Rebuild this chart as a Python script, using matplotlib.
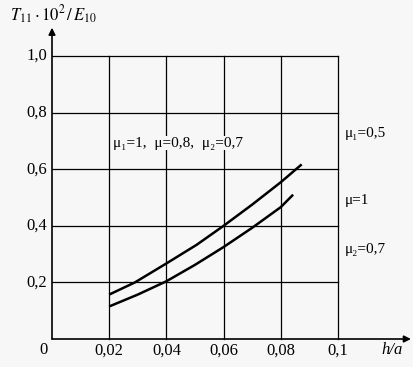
import matplotlib.pyplot as plt
import numpy as np

# values
h_upper = [0.02, 0.029, 0.04, 0.0506, 0.06, 0.07, 0.08, 0.0873]
t_upper = [0.157, 0.20, 0.267, 0.333, 0.40, 0.475, 0.554, 0.617]
h_lower = [0.02, 0.03, 0.04, 0.05, 0.06, 0.07, 0.08, 0.0843]
t_lower = [0.115, 0.157, 0.204, 0.262, 0.325, 0.393, 0.466, 0.51]

x_ticks = [0.02, 0.04, 0.06, 0.08, 0.1]
x_tick_labels = ["0,02", "0,04", "0,06", "0,08", "0,1"]
y_ticks = [0.2, 0.4, 0.6, 0.8, 1.0]
y_tick_labels = ["0,2", "0,4", "0,6", "0,8", "1,0"]

plt.rcParams["font.family"] = ["Liberation Serif", "DejaVu Serif"]
plt.rcParams["mathtext.fontset"] = "stix"

W, H = 413, 367
bg = "#f7f7f7"
fig = plt.figure(figsize=(W / 100, H / 100), dpi=100, facecolor=bg)
x0, x1 = 52, 338
y0, y1 = 339, 56
ax = fig.add_axes([x0 / W, 1 - y0 / H, (x1 - x0) / W, (y0 - y1) / H])
ax.set_xlim(0, 0.1)
ax.set_ylim(0, 1.0)
ax.set_facecolor(bg)
for s in ax.spines.values():
    s.set_visible(False)
ax.set_xticks([])
ax.set_yticks([])

# grid
for xv in x_ticks:
    ax.plot([xv, xv], [0, 1.0], color="black", lw=0.9, zorder=1, clip_on=False)
for yv in y_ticks:
    ax.plot([0, 0.1], [yv, yv], color="black", lw=0.9, zorder=1, clip_on=False)

# axes with arrows
ax.annotate("", xy=(0, 1.1), xytext=(0, 0), annotation_clip=False,
            arrowprops=dict(arrowstyle="-|>", color="black", lw=1.2,
                            mutation_scale=10, shrinkA=0, shrinkB=0))
ax.annotate("", xy=(0.1255, 0), xytext=(0, 0), annotation_clip=False,
            arrowprops=dict(arrowstyle="-|>", color="black", lw=1.2,
                            mutation_scale=10, shrinkA=0, shrinkB=0))

# curves
ax.plot(h_upper, t_upper, color="black", lw=1.8, zorder=3, clip_on=False,
        solid_joinstyle="round", solid_capstyle="butt")
ax.plot(h_lower, t_lower, color="black", lw=1.8, zorder=3, clip_on=False,
        solid_joinstyle="round", solid_capstyle="butt")

# tick labels
fs = 12
for xv, lab in zip(x_ticks, x_tick_labels):
    ax.text(xv, -0.04, lab, ha="center", va="center", fontsize=fs, clip_on=False)
ax.text(-0.0028, -0.04, "0", ha="center", va="center", fontsize=fs, clip_on=False)
ax.text(0.119, -0.04, "h/a", ha="center", va="center", fontsize=fs,
        style="italic", clip_on=False)
for yv, lab in zip(y_ticks, y_tick_labels):
    ax.text(-0.0017, yv, lab, ha="right", va="center", fontsize=fs, clip_on=False)

ax.text(-0.0147, 1.145, r"$T_{11}\cdot10^2\,/\,E_{10}$", ha="left", va="center",
        fontsize=12, clip_on=False)

# annotations
ax.text(0.0213, 0.692, "μ₁=1,  μ=0,8,  μ₂=0,7", ha="left", va="center",
        fontsize=11, zorder=4,
        bbox=dict(facecolor=bg, edgecolor="none", pad=0.6))
ax.text(0.1025, 0.725, "μ₁=0,5", ha="left", va="center", fontsize=11, clip_on=False)
ax.text(0.1025, 0.49, "μ=1", ha="left", va="center", fontsize=11, clip_on=False)
ax.text(0.1025, 0.318, "μ₂=0,7", ha="left", va="center", fontsize=11, clip_on=False)

fig.savefig("out.png", dpi=100, facecolor=fig.get_facecolor())
